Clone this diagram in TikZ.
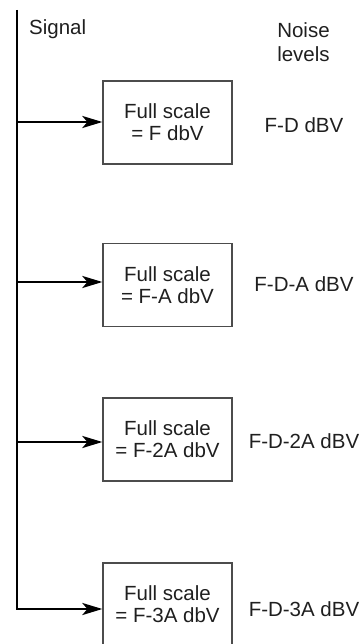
\documentclass[tikz,border=0pt]{standalone}
\usepackage{fontspec}
\setmainfont{Liberation Sans}
\usetikzlibrary{arrows.meta}

\begin{document}
\begin{tikzpicture}[x=1pt,y=-1pt,
  every node/.style={text=black!88, font=\fontsize{20.5}{22}\selectfont},
  scalebox/.style={draw=black!70, line width=1.3pt, minimum width=129pt,
    minimum height=83pt, align=center, inner sep=0pt},
  levellabel/.style={inner sep=0pt, align=center},
  spine/.style={line width=2.6pt, black},
  feed/.style={line width=2.6pt, black, -{Stealth[length=20pt, width=12pt, inset=5pt]}}]

  \useasboundingbox (0,0) rectangle (360,644);
  \clip (0,0) rectangle (360,644);

  % column headings
  \node[anchor=base west, inner sep=0pt] (signal) at (29,35) {Signal};
  \node[levellabel, anchor=north, font=\fontsize{20.5}{24}\selectfont] (noise) at (303.5,22.4) {Noise\\levels};

  % attenuator stages
  \node[scalebox] (box1) at (167.5,122.5) {Full scale\\= F dbV};
  \node[scalebox] (box2) at (167.5,285)   {Full scale\\= F-A dbV};
  \node[scalebox] (box3) at (167.5,439.5) {Full scale\\= F-2A dbV};
  \node[scalebox] (box4) at (167.5,604.5) {Full scale\\= F-3A dbV};

  % noise levels of each stage
  \node[levellabel] (n1) at (304,125)   {F-D dBV};
  \node[levellabel] (n2) at (304,284)   {F-D-A dBV};
  \node[levellabel] (n3) at (304,441.5) {F-D-2A dBV};
  \node[levellabel] (n4) at (304,609)   {F-D-3A dBV};

  % signal bus and taps
  \coordinate (top) at (17,10);
  \coordinate (t1) at (17,122);
  \coordinate (t2) at (17,282);
  \coordinate (t3) at (17,442);
  \coordinate (t4) at (17,609);

  \draw[spine] (top) -- (t4);
  \draw[feed] (t1) -- (t1 -| box1.west);
  \draw[feed] (t2) -- (t2 -| box2.west);
  \draw[feed] (t3) -- (t3 -| box3.west);
  \draw[feed, line join=miter] ([yshift=-1.3pt]top) -- (t4) -- (t4 -| box4.west);
\end{tikzpicture}
\end{document}
